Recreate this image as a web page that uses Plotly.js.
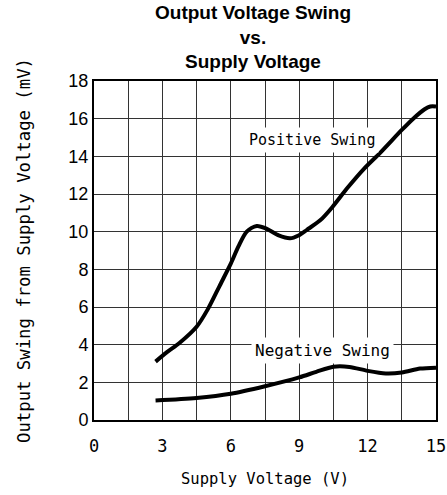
<!DOCTYPE html>
<html>
<head>
<meta charset="utf-8">
<script src="https://cdn.plot.ly/plotly-3.0.1.min.js"></script>
<style>html,body{margin:0;padding:0;background:#fff;}#chart{width:447px;height:495px;}</style>
</head>
<body>
<div id="chart"></div>
<script>
// Positive swing (mV) vs supply voltage (V)
var posVoltage = [2.7, 3.2, 3.76, 4.5, 5.0, 5.5, 6.0, 6.33, 6.7, 7.14, 7.58, 8.1, 8.6, 8.97, 9.34, 9.92, 10.45, 11.1, 11.85, 12.56, 13.5, 14.0, 14.5, 14.75, 15.0];
var posSwing   = [3.1, 3.6, 4.1, 4.95, 5.9, 7.1, 8.3, 9.2, 10.0, 10.3, 10.15, 9.8, 9.65, 9.8, 10.1, 10.6, 11.3, 12.3, 13.35, 14.2, 15.4, 16.0, 16.5, 16.65, 16.65];
// Negative swing (mV) vs supply voltage (V)
var negVoltage = [2.7, 4.5, 6.0, 7.5, 9.0, 9.75, 10.5, 11.2, 12.0, 12.8, 13.5, 14.3, 15.0];
var negSwing   = [1.04, 1.17, 1.39, 1.79, 2.26, 2.56, 2.83, 2.82, 2.61, 2.47, 2.52, 2.73, 2.78];
// Tick labels
var xTickVals = [0, 3, 6, 9, 12, 15];
var xTickText = ['0', '3', '6', '9', '12', '15'];
var yTickVals = [0, 2, 4, 6, 8, 10, 12, 14, 16, 18];
var yTickText = ['0', '2', '4', '6', '8', '10', '12', '14', '16', '18'];
// Labels
var titleLines = ['Output Voltage Swing', 'vs.', 'Supply Voltage'];
var seriesNames = ['Positive Swing', 'Negative Swing'];
var labelPos = [[9.56, 14.87], [10.02, 3.68]];

var mono = '"DejaVu Sans Mono", "Liberation Mono", monospace';
var sans = '"Liberation Sans", Arial, sans-serif';
var grid = '#333333';

var traces = [
  {x: posVoltage, y: posSwing, mode: 'lines', name: seriesNames[0],
   line: {color: '#000', width: 4, shape: 'spline', smoothing: 0.8}, hoverinfo: 'skip'},
  {x: negVoltage, y: negSwing, mode: 'lines', name: seriesNames[1],
   line: {color: '#000', width: 4, shape: 'spline', smoothing: 0.8}, hoverinfo: 'skip'}
];

var layout = {
  width: 447, height: 495,
  margin: {l: 94, r: 11, t: 81, b: 75, pad: 0},
  paper_bgcolor: '#fff', plot_bgcolor: '#fff',
  showlegend: false,
  title: {
    text: '<b>' + titleLines.join('<br>') + '</b>',
    font: {family: sans, size: 19, color: '#000'},
    x: 253 / 447, xanchor: 'center', xref: 'container',
    y: 1 - 19 / 495, yanchor: 'middle', yref: 'container'
  },
  xaxis: {
    range: [0, 15], tickvals: xTickVals, ticktext: xTickText,
    ticks: '', ticklabelstandoff: 10,
    tickfont: {family: mono, size: 17, color: '#000'},
    showgrid: true, gridcolor: grid, gridwidth: 1,
    minor: {dtick: 1.5, tick0: 0, showgrid: true, gridcolor: grid, gridwidth: 1, ticks: ''},
    showline: true, mirror: true, linecolor: '#000', linewidth: 2,
    zeroline: false, fixedrange: true,
    title: {text: 'Supply Voltage (V)', font: {family: mono, size: 15.5, color: '#000'}, standoff: 18}
  },
  yaxis: {
    range: [0, 18], tickvals: yTickVals, ticktext: yTickText,
    ticks: '', ticklabelstandoff: 0,
    tickfont: {family: '"Liberation Sans Narrow", "Liberation Sans", Arial, sans-serif', size: 18, color: '#000'},
    showgrid: true, gridcolor: grid, gridwidth: 1,
    showline: true, mirror: true, linecolor: '#000', linewidth: 2,
    zeroline: false, fixedrange: true,
    title: {text: 'Output Swing from Supply Voltage (mV)', font: {family: mono, size: 17.3, color: '#000'}, standoff: 33}
  },
  annotations: [
    {x: labelPos[0][0], y: labelPos[0][1], xref: 'x', yref: 'y', text: seriesNames[0], showarrow: false,
     font: {family: mono, size: 15, color: '#000'}, bgcolor: '#fff', borderpad: 3},
    {x: labelPos[1][0], y: labelPos[1][1], xref: 'x', yref: 'y', text: seriesNames[1], showarrow: false,
     font: {family: mono, size: 16, color: '#000'}, bgcolor: '#fff', borderpad: 3}
  ]
};

Plotly.newPlot('chart', traces, layout, {staticPlot: true, displayModeBar: false});
</script>
</body>
</html>
